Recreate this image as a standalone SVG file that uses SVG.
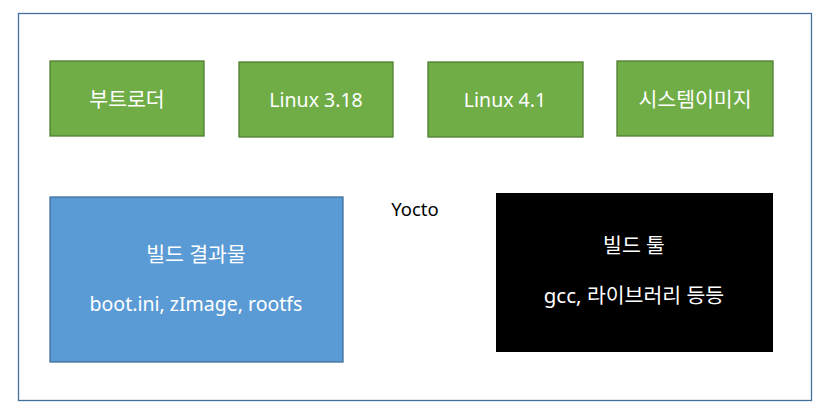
<svg xmlns="http://www.w3.org/2000/svg" width="820" height="412" viewBox="0 0 820 412">
<style>
text{font-family:"Noto Sans","Noto Sans CJK KR",sans-serif;font-size:19.5px;text-anchor:middle;fill:#fff}
.ko{font-size:20.5px}
.g{fill:#70AD47;stroke:#507E32;stroke-width:1.3}
.b{fill:#5B9BD5;stroke:#41719C;stroke-width:1.3}
.k{fill:#000}
.frame{fill:#fff;stroke:#41719C;stroke-width:1.3}
</style>
<rect width="820" height="412" fill="#fff"/>
<g id="yocto">
<rect class="frame" x="18.5" y="13.5" width="793" height="387"/>
<text x="415" y="216" style="fill:#000;font-size:18.5px">Yocto</text>
</g>
<g id="bootloader"><rect class="g" x="50" y="61" width="154" height="75"/><text class="ko" x="127" y="107">부트로더</text></g>
<g id="linux318"><rect class="g" x="239" y="62" width="154" height="75"/><text x="316" y="107">Linux 3.18</text></g>
<g id="linux41"><rect class="g" x="428" y="62" width="155" height="75"/><text x="505" y="107">Linux 4.1</text></g>
<g id="sysimage"><rect class="g" x="617" y="61" width="156" height="75"/><text class="ko" x="695" y="107">시스템이미지</text></g>
<g id="result"><rect class="b" x="50" y="197" width="293" height="165"/><text class="ko" x="196" y="262">빌드 결과물</text><text x="196" y="311">boot.ini, zImage, rootfs</text></g>
<g id="tools"><rect class="k" x="496" y="193" width="277" height="159"/><text class="ko" x="634" y="253">빌드 툴</text><text class="ko" x="634" y="303">gcc, 라이브러리 등등</text></g>
<g id="connectors"></g>
</svg>
